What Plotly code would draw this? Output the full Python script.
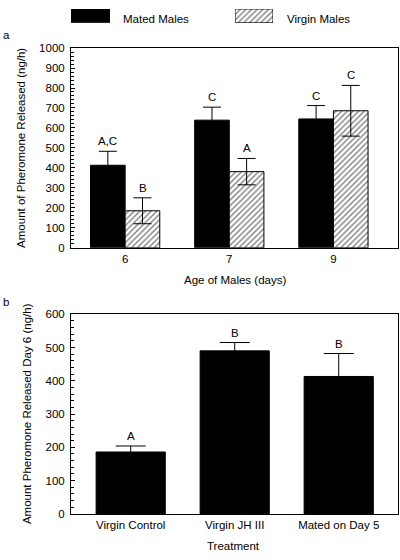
import plotly.graph_objects as go

# ---- Data ----
ages = ["6", "7", "9"]
mated_vals = [413, 639, 645]
mated_err = [70, 65, 67]
mated_letters = ["A,C", "C", "C"]
virgin_vals = [185, 381, 686]
virgin_err = [65, 66, 127]
virgin_letters = ["B", "A", "C"]

treatments = ["Virgin Control", "Virgin JH III", "Mated on Day 5"]
treat_vals = [186, 490, 413]
treat_err = [18, 25, 69]
treat_letters = ["A", "B", "B"]

W, H = 400, 560
FONT = "Liberation Sans, Arial, Helvetica, sans-serif"
FS = 11.5

def px_x(p):
    return p / W

def px_y(p):
    return 1 - p / H

hatch = dict(shape="/", fgcolor="black", bgcolor="white", size=4, solidity=0.35)

fig = go.Figure()

# Panel a
fig.add_trace(go.Bar(
    x=ages, y=mated_vals, name="Mated Males", xaxis="x", yaxis="y",
    marker=dict(color="black", line=dict(color="black", width=1)),
    error_y=dict(type="data", array=mated_err, color="black", thickness=1, width=9),
    showlegend=False, hoverinfo="skip"))
fig.add_trace(go.Bar(
    x=ages, y=virgin_vals, name="Virgin Males", xaxis="x", yaxis="y",
    marker=dict(color="white", pattern=hatch, line=dict(color="black", width=1)),
    error_y=dict(type="data", array=virgin_err, color="black", thickness=1, width=9),
    showlegend=False, hoverinfo="skip"))

# Panel b
fig.add_trace(go.Bar(
    x=treatments, y=treat_vals, xaxis="x2", yaxis="y2",
    marker=dict(color="black", line=dict(color="black", width=1)),
    error_y=dict(type="data", array=treat_err, color="black", thickness=1, width=15),
    showlegend=False, hoverinfo="skip"))

# Legend swatches (drawn as bars on tiny hidden axes)
fig.add_trace(go.Bar(x=[0], y=[1], width=[1], xaxis="x3", yaxis="y3",
                     marker=dict(color="black", line=dict(color="black", width=1)),
                     showlegend=False, hoverinfo="skip"))
fig.add_trace(go.Bar(x=[0], y=[1], width=[1], xaxis="x4", yaxis="y4",
                     marker=dict(color="white", pattern=hatch, line=dict(color="black", width=1)),
                     showlegend=False, hoverinfo="skip"))

annotations = []
offsets = [-0.1675, 0.1675]
for series_vals, series_err, letters, off in [
        (mated_vals, mated_err, mated_letters, offsets[0]),
        (virgin_vals, virgin_err, virgin_letters, offsets[1])]:
    for i, (v, e, t) in enumerate(zip(series_vals, series_err, letters)):
        annotations.append(dict(x=i + off, y=v + e, xref="x", yref="y", text=t,
                                showarrow=False, yanchor="bottom", yshift=2,
                                font=dict(size=FS, color="black", family=FONT)))
for i, (v, e, t) in enumerate(zip(treat_vals, treat_err, treat_letters)):
    annotations.append(dict(x=i, y=v + e, xref="x2", yref="y2", text=t,
                            showarrow=False, yanchor="bottom", yshift=2,
                            font=dict(size=FS, color="black", family=FONT)))

def txt(x, y, text, size=FS, xanchor="center", angle=0):
    annotations.append(dict(x=px_x(x), y=px_y(y), xref="paper", yref="paper", text=text,
                            showarrow=False, xanchor=xanchor, yanchor="middle", textangle=angle,
                            font=dict(size=size, color="black", family=FONT)))

txt(121, 13, "Mated Males", 11.5, "left")
txt(285, 13, "Virgin Males", 11.5, "left")
txt(1, 30, "a", FS, "left")
txt(1, 302, "b", FS, "left")
txt(21, 145, "Amount of Pheromone Released (ng/h)", FS, angle=-90)
txt(235, 280, "Age of Males (days)", FS)
txt(27, 417, "Amount Pheromone Released Day 6 (ng/h)", FS, angle=-90)
txt(233, 552, "Treatment", FS)

axis_common = dict(showline=True, linecolor="black", linewidth=1, mirror=True,
                   showgrid=False, zeroline=False,
                   tickfont=dict(size=FS, color="black", family=FONT))

fig.update_layout(
    width=W, height=H,
    margin=dict(l=0, r=0, t=0, b=0),
    paper_bgcolor="white", plot_bgcolor="white",
    barmode="group", bargap=0.335, bargroupgap=0,
    showlegend=False,
    xaxis=dict(domain=[px_x(71), px_x(398)], anchor="y", range=[-0.52, 2.62],
               ticks="", **axis_common),
    yaxis=dict(domain=[px_y(247), px_y(43)], anchor="x", range=[0, 1000], dtick=100,
               ticks="inside", ticklen=4, tickcolor="black", ticklabelstandoff=3,
               minor=dict(ticks="inside", dtick=20, ticklen=3, tickcolor="black"),
               **axis_common),
    xaxis2=dict(domain=[px_x(71), px_x(398)], anchor="y2", range=[-0.574, 2.57],
                ticks="", **axis_common),
    yaxis2=dict(domain=[px_y(519), px_y(315)], anchor="x2", range=[0, 600], dtick=100,
                ticks="inside", ticklen=4, tickcolor="black", ticklabelstandoff=3,
                minor=dict(ticks="inside", dtick=20, ticklen=3, tickcolor="black"),
                **axis_common),
    xaxis3=dict(domain=[px_x(71), px_x(110)], anchor="y3", range=[-0.5, 0.5], visible=False),
    yaxis3=dict(domain=[px_y(17), px_y(3)], anchor="x3", range=[0, 1], visible=False),
    xaxis4=dict(domain=[px_x(235), px_x(273)], anchor="y4", range=[-0.5, 0.5], visible=False),
    yaxis4=dict(domain=[px_y(17), px_y(3)], anchor="x4", range=[0, 1], visible=False),
    annotations=annotations,
)

fig.write_html("out.html", config={"displayModeBar": False},
               post_script="document.body.style.margin='0px';document.body.style.overflow='hidden';")
